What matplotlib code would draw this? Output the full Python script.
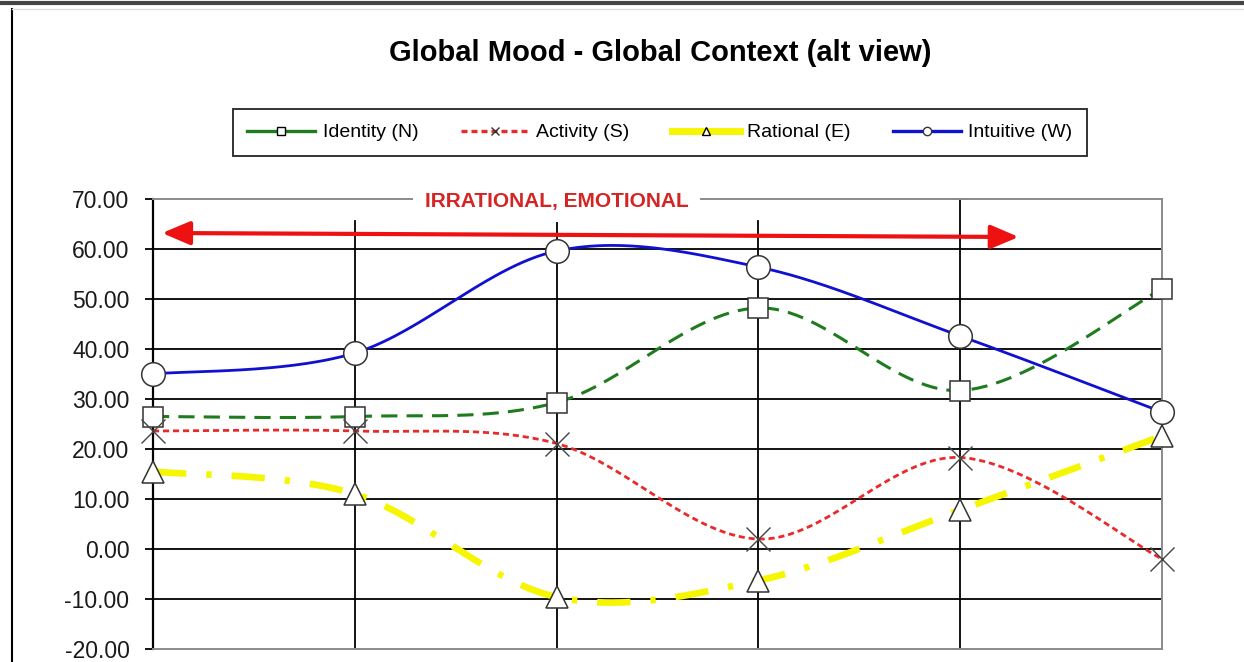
import numpy as np
import matplotlib
matplotlib.use("Agg")
import matplotlib.pyplot as plt
from matplotlib.lines import Line2D
from matplotlib.ticker import FuncFormatter

plt.rcParams['font.family'] = ['Liberation Sans', 'DejaVu Sans']

# ---- data ----
categories = [0, 1, 2, 3, 4, 5]
identity_n = [26.5, 26.5, 29.3, 48.2, 31.7, 52.0]
activity_s = [23.6, 23.6, 21.1, 2.0, 18.3, -2.0]
rational_e = [15.5, 11.0, -9.6, -6.3, 7.8, 22.6]
intuitive_w = [35.0, 39.2, 59.6, 56.4, 42.6, 27.4]
series_labels = ["Identity (N)", "Activity (S)", "Rational (E)", "Intuitive (W)"]
yticks = [70, 60, 50, 40, 30, 20, 10, 0, -10, -20]
title = "Global Mood - Global Context (alt view)"
band_label = "IRRATIONAL, EMOTIONAL"


def smooth(xs, ys, n=60):
    """Excel-like smoothed line: Catmull-Rom Bezier through the points."""
    P = np.column_stack([xs, ys]).astype(float)
    P_ext = np.vstack([P[0], P, P[-1]])
    out = []
    t = np.linspace(0, 1, n)[:, None]
    for i in range(len(P) - 1):
        p0, p1, p2, p3 = P_ext[i], P_ext[i + 1], P_ext[i + 2], P_ext[i + 3]
        c1 = p1 + (p2 - p0) / 6.0
        c2 = p2 - (p3 - p1) / 6.0
        seg = ((1 - t) ** 3) * p1 + 3 * ((1 - t) ** 2) * t * c1 + 3 * (1 - t) * t ** 2 * c2 + t ** 3 * p2
        out.append(seg if i == 0 else seg[1:])
    out = np.vstack(out)
    return out[:, 0], out[:, 1]


fig = plt.figure(figsize=(12.44, 6.62), dpi=100)
ax = fig.add_axes([153 / 1244, 1 - 649 / 662, (1162 - 153) / 1244, (649 - 199) / 662])

ax.set_xlim(0, 5)
ax.set_ylim(-20, 70)

# grid
for v in yticks[1:-1]:
    ax.axhline(v, color='black', lw=1.3, zorder=1)
for c in categories[1:4]:
    ax.plot([c, c], [-20, 65.6], color='black', lw=1.3, zorder=1)
ax.plot([categories[4]] * 2, [-20, 70], color='black', lw=1.3, zorder=1)

green = '#1E7B1E'
red = '#E82A2A'
yellow = '#F6F600'
blue = '#1010D0'
medge = '#333333'

xs, ys = smooth(categories, identity_n)
ax.plot(xs, ys, color=green, lw=2.2, dashes=(5.3, 3.0), zorder=3)
xs, ys = smooth(categories, activity_s)
ax.plot(xs, ys, color=red, lw=2.0, dashes=(2.2, 1.4), zorder=3)
xs, ys = smooth(categories, rational_e)
ax.plot(xs, ys, color=yellow, lw=4.8, dashes=(5.0, 3.0, 0.8, 3.0), zorder=3)
xs, ys = smooth(categories, intuitive_w)
ax.plot(xs, ys, color=blue, lw=2.0, zorder=3)

mk = dict(ls='none', mfc='white', mec=medge, mew=1.1, clip_on=False, zorder=6)
ax.plot(categories, identity_n, marker='s', ms=15, **mk)
ax.plot(categories, activity_s, marker='x', ms=17, mew=1.0, mec='#444444', ls='none', clip_on=False, zorder=6)
ax.plot(categories, rational_e, marker='^', ms=16, **mk)
ax.plot(categories, intuitive_w, marker='o', ms=17, **mk)

# spines
ax.spines['left'].set_color('black')
ax.spines['left'].set_linewidth(1.6)
for s in ['top', 'right', 'bottom']:
    ax.spines[s].set_color('#8a8a8a')
    ax.spines[s].set_linewidth(1.4)

ax.set_xticks([])
ax.set_yticks(yticks)
ax.yaxis.set_major_formatter(FuncFormatter(lambda v, p: f"{v:.2f}"))
ax.tick_params(axis='y', direction='out', length=6, width=1.3, color='black',
               labelsize=16.5, pad=11, labelcolor='#1a1a1a')

# arrow
ax.annotate('', xy=(4.29, 62.4), xytext=(0.045, 63.2),
            arrowprops=dict(arrowstyle='<|-|>,head_length=0.85,head_width=0.36',
                            color='#EE1111', lw=3.0, mutation_scale=20,
                            shrinkA=0, shrinkB=0), zorder=4)

ax.text(2.0, 69.6, band_label, ha='center', va='center', fontsize=15, fontweight='bold',
        color='#D42424', zorder=8, clip_on=False,
        bbox=dict(boxstyle='square,pad=0.55', fc='white', ec='none'))

# title
fig.text(660 / 1244, 1 - 53 / 662, title, ha='center', va='center', fontsize=21,
         fontweight='bold', color='black')

# legend
handles = [
    Line2D([], [], color=green, lw=2.4, marker='s', ms=6, mfc='white', mec='black', mew=1),
    Line2D([], [], color=red, lw=2.4, dashes=(1.8, 1.2), marker='x', ms=6, mec='#333333', mew=1),
    Line2D([], [], color=yellow, lw=5, marker='^', ms=6, mfc='white', mec='black', mew=1),
    Line2D([], [], color=blue, lw=2.4, marker='o', ms=6, mfc='white', mec='#333333', mew=1),
]
leg = fig.legend(handles, series_labels, loc='center', ncol=4,
                 bbox_to_anchor=(660 / 1244, 1 - 132.5 / 662),
                 fontsize=14, frameon=True, fancybox=False, handlelength=3.5,
                 handletextpad=0.4, columnspacing=2.15, borderpad=0.75, borderaxespad=0)
leg.get_frame().set_edgecolor('black')
leg.get_frame().set_linewidth(1.4)

# outer frame
fig.add_artist(Line2D([0, 1], [1 - 3 / 662, 1 - 3 / 662], color='#444444', lw=3.0))
fig.add_artist(Line2D([12 / 1244, 12 / 1244], [0, 1 - 9 / 662], color='black', lw=1.5))
fig.add_artist(Line2D([12 / 1244, 1], [1 - 9 / 662, 1 - 9 / 662], color='#dddddd', lw=1.0))

fig.savefig('out.png', dpi=100, facecolor='white')
